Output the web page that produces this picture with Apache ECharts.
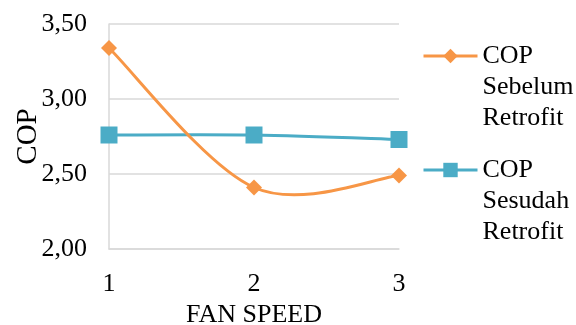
<!DOCTYPE html>
<html>
<head>
<meta charset="utf-8">
<script src="https://cdn.jsdelivr.net/npm/echarts@6/dist/echarts.min.js"></script>
<style>
  html, body { margin: 0; padding: 0; background: #ffffff; }
  #chart { width: 576px; height: 325px; }
</style>
</head>
<body>
<div id="chart"></div>
<script>
// Fan speed settings on the x axis
const fanSpeeds = ['1', '2', '3'];
// Coefficient of performance before and after the retrofit
const copBefore = [3.34, 2.41, 2.49];
const copAfter = [2.76, 2.76, 2.73];
const seriesNames = ['COP Sebelum Retrofit', 'COP Sesudah Retrofit'];
const yTicks = { min: 2.0, max: 3.5, step: 0.5 };

const FONT = 'Liberation Serif';
const GRID_COLOR = '#d9d9d9';
const ORANGE = '#f79646';
const BLUE = '#4bacc6';
const LINE_H = 31;

const chart = echarts.init(document.getElementById('chart'), null, { renderer: 'canvas' });

// Smoothed path through the points (cardinal spline, tension 1/6),
// one bezier segment per data item, positioned through the axes.
function curveSeries(name, values, color, z) {
  return {
    name: name,
    type: 'custom',
    data: values.map((v, i) => [i, v]),
    encode: { x: 0, y: 1 },
    z: z,
    silent: true,
    renderItem: function (params, api) {
      const i = params.dataIndex;
      if (i >= values.length - 1) return null;
      const p = values.map((v, k) => api.coord([k, v]));
      const p0 = p[Math.max(i - 1, 0)];
      const p1 = p[i];
      const p2 = p[i + 1];
      const p3 = p[Math.min(i + 2, p.length - 1)];
      return {
        type: 'bezierCurve',
        shape: {
          x1: p1[0], y1: p1[1],
          cpx1: p1[0] + (p2[0] - p0[0]) / 6, cpy1: p1[1] + (p2[1] - p0[1]) / 6,
          cpx2: p2[0] - (p3[0] - p1[0]) / 6, cpy2: p2[1] - (p3[1] - p1[1]) / 6,
          x2: p2[0], y2: p2[1]
        },
        style: { stroke: color, lineWidth: 3, fill: null, lineCap: 'round' }
      };
    }
  };
}

function legendFor(name, color, iconCenterY) {
  return {
    data: [{ name: name, lineStyle: { color: color, width: 3, opacity: 1 } }],
    orient: 'vertical',
    left: 422,
    top: iconCenterY - (LINE_H * 5) / 2 + 19,
    padding: 0,
    itemWidth: 54,
    itemHeight: 18,
    itemGap: 0,
    // first line is a blank spacer so "COP" sits level with the icon
    formatter: n => '{sp| }\n' + n.split(' ').map(w => '{t|' + w + '}').join('\n'),
    textStyle: {
      fontFamily: FONT,
      fontSize: 26,
      color: '#000',
      rich: {
        sp: { fontFamily: FONT, fontSize: 26, lineHeight: LINE_H * 2, color: '#000' },
        t: { fontFamily: FONT, fontSize: 26, lineHeight: LINE_H, color: '#000' }
      }
    }
  };
}

chart.setOption({
  animation: false,
  textStyle: { fontFamily: FONT, color: '#000' },
  grid: {
    left: 109, right: 177, top: 24, bottom: 76,
    containLabel: false,
    outerBoundsMode: 'none'
  },
  legend: [
    legendFor(seriesNames[0], ORANGE, 55),
    legendFor(seriesNames[1], BLUE, 169)
  ],
  xAxis: {
    type: 'category',
    data: fanSpeeds,
    boundaryGap: false,
    name: 'FAN SPEED',
    nameLocation: 'middle',
    nameGap: 53,
    nameTextStyle: { fontFamily: FONT, fontSize: 26, color: '#000' },
    axisLine: { show: true, lineStyle: { color: GRID_COLOR, width: 1.5 } },
    axisTick: { show: false },
    axisLabel: { fontFamily: FONT, fontSize: 26, color: '#000', margin: 22 },
    splitLine: { show: false }
  },
  yAxis: {
    type: 'value',
    min: yTicks.min,
    max: yTicks.max,
    interval: yTicks.step,
    name: 'COP',
    nameLocation: 'middle',
    nameGap: 66,
    nameMoveOverlap: false,
    nameTextStyle: { fontFamily: FONT, fontSize: 29, color: '#000' },
    axisLine: { show: true, lineStyle: { color: GRID_COLOR, width: 1.5 } },
    axisTick: { show: false },
    axisLabel: {
      fontFamily: FONT, fontSize: 26, color: '#000', margin: 22,
      formatter: v => v.toFixed(2).replace('.', ',')
    },
    splitLine: { show: true, lineStyle: { color: GRID_COLOR, width: 1.5 } }
  },
  series: [
    {
      name: seriesNames[0],
      type: 'line',
      data: copBefore,
      symbol: 'diamond',
      symbolSize: 16,
      lineStyle: { color: ORANGE, width: 3, opacity: 0 },
      itemStyle: { color: ORANGE },
      z: 5
    },
    {
      name: seriesNames[1],
      type: 'line',
      data: copAfter,
      symbol: 'rect',
      symbolSize: 17,
      lineStyle: { color: BLUE, width: 3, opacity: 0 },
      itemStyle: { color: BLUE },
      z: 4
    },
    curveSeries(seriesNames[0], copBefore, ORANGE, 3),
    curveSeries(seriesNames[1], copAfter, BLUE, 2)
  ]
});
</script>
</body>
</html>
